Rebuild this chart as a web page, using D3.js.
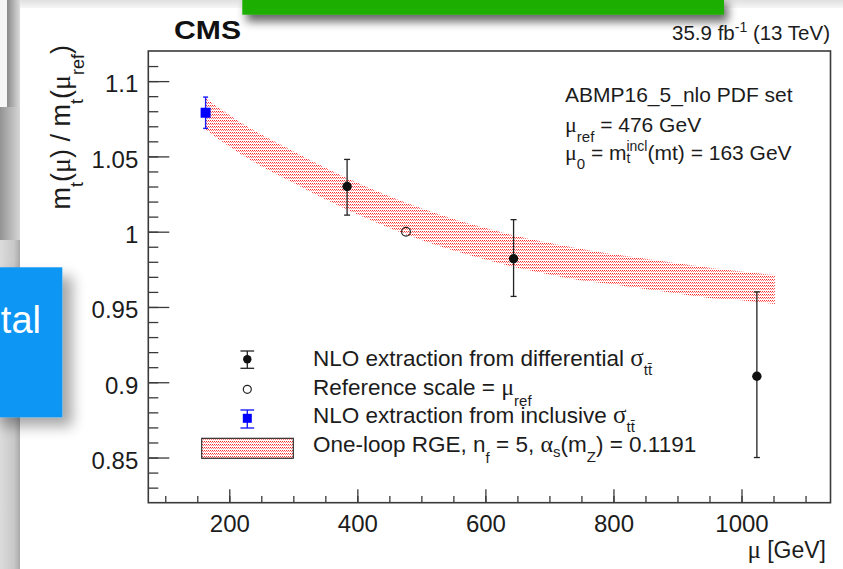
<!DOCTYPE html>
<html>
<head>
<meta charset="utf-8">
<script src="https://cdn.jsdelivr.net/npm/d3@7/dist/d3.min.js"></script>
<style>
  html, body { margin: 0; padding: 0; background: #fff; }
  svg { display: block; }
  text { white-space: pre; }
</style>
</head>
<body>
<svg id="chart" width="843" height="569"></svg>
<script>
// ---- data ----
const diffMu = [384, 644, 1024];
const diffRatio = [1.030, 0.982, 0.904];
const diffErrUp = [0.018, 0.026, 0.056];
const diffErrDown = [0.019, 0.025, 0.054];

const refMu = [476];
const refRatio = [1.0];

const inclMu = [163];
const inclRatio = [1.079];
const inclErr = [0.0104];

// one-loop RGE band (upper / lower edge)
const bandMu = [163, 200, 250, 300, 350, 400, 450, 500, 550, 600, 650, 700, 750, 800, 850, 900, 950, 1000, 1052];
const bandUp = [1.089, 1.0775, 1.0645, 1.0535, 1.0425, 1.0325, 1.0235, 1.0155, 1.0085, 1.0025, 0.997, 0.9925, 0.9885, 0.985, 0.982, 0.979, 0.976, 0.9735, 0.9712];
const bandLo = [1.068, 1.0565, 1.0435, 1.0325, 1.0215, 1.0115, 1.0025, 0.9945, 0.9875, 0.9815, 0.976, 0.9715, 0.9675, 0.965, 0.962, 0.959, 0.956, 0.9545, 0.952];

const xMajorTicks = [200, 400, 600, 800, 1000];
const yMajorTicks = [0.85, 0.9, 0.95, 1.0, 1.05, 1.1];
const yTickLabels = ["0.85", "0.9", "0.95", "1", "1.05", "1.1"];

// ---- layout ----
const SANS = "'Liberation Sans', Arial, Helvetica, sans-serif";
const SERIF = "'Liberation Serif', 'DejaVu Serif', serif";
const INK = "#1c1c1c";
const FRAME = "#3a3a3a";
const plot = { left: 148.3, right: 830.5, top: 51, bottom: 502.7 };

const svg = d3.select("#chart").attr("font-family", SANS);
const defs = svg.append("defs");

const x = d3.scaleLinear().domain([73.5, 1139]).range([plot.left, plot.right]);
const y = d3.scaleLinear().domain([0.82, 1.12]).range([plot.bottom, plot.top]);

// dotted red fill used for the RGE band
const pat = defs.append("pattern").attr("id", "rgeFill")
  .attr("patternUnits", "userSpaceOnUse").attr("width", 2).attr("height", 3);
pat.append("rect").attr("x", 0).attr("y", 0).attr("width", 1).attr("height", 1).attr("fill", "#ff1414").attr("opacity", 0.9);
pat.append("rect").attr("x", 1).attr("y", 1).attr("width", 1).attr("height", 1).attr("fill", "#ff3c3c").attr("opacity", 0.7);

function shadowFilter(id, dx, dy, sd, op) {
  const f = defs.append("filter").attr("id", id)
    .attr("x", "-30%").attr("y", "-30%").attr("width", "170%").attr("height", "220%");
  f.append("feGaussianBlur").attr("in", "SourceAlpha").attr("stdDeviation", sd);
  f.append("feOffset").attr("dx", dx).attr("dy", dy).attr("result", "ob");
  f.append("feComponentTransfer").append("feFuncA").attr("type", "linear").attr("slope", op);
  const m = f.append("feMerge");
  m.append("feMergeNode");
  m.append("feMergeNode").attr("in", "SourceGraphic");
}
shadowFilter("shadowGreen", 4, 7, 5, 0.6);
shadowFilter("shadowBlue", 10, 9, 7, 0.35);

function grad(id, stops, vertical) {
  const g = defs.append("linearGradient").attr("id", id)
    .attr("x1", 0).attr("y1", 0).attr("x2", vertical ? 0 : 1).attr("y2", vertical ? 1 : 0);
  stops.forEach(([o, c]) => g.append("stop").attr("offset", o).attr("stop-color", c));
}
grad("topStrip", [[0, "#e0e0e0"], [1, "#f6f6f6"]], true);
grad("panelEdge", [[0, "#8a8a8a"], [1, "#dcdcdc"]], false);
grad("colUpper", [[0, "#939393"], [1, "#d6d6d6"]], false);
grad("colLower", [[0, "#dcdcdc"], [0.7, "#c8c8c8"], [1, "#a9a9a9"]], false);

// rich text: parts are [string, {dy, size, serif, dx}] with dy relative to the baseline
function rich(parent, px, py, parts, size, anchor) {
  const t = parent.append("text").attr("x", px).attr("y", py)
    .attr("font-size", size).attr("fill", INK).attr("text-anchor", anchor || "start");
  let cur = 0;
  parts.forEach(([s, o]) => {
    o = o || {};
    const off = o.dy || 0;
    const ts = t.append("tspan").text(s);
    if (off !== cur) ts.attr("dy", off - cur);
    cur = off;
    if (o.size) ts.attr("font-size", o.size);
    if (o.serif) ts.attr("font-family", SERIF);
    if (o.dx) ts.attr("dx", o.dx);
  });
  return t;
}

// ---- band ----
const bandData = bandMu.map((m, i) => ({ m, up: bandUp[i], lo: bandLo[i] }));
svg.append("path").datum(bandData)
  .attr("d", d3.area().x(d => x(d.m)).y0(d => y(d.lo)).y1(d => y(d.up)).curve(d3.curveMonotoneX))
  .attr("fill", "url(#rgeFill)");

// ---- axes ----
const yMinor = d3.range(83, 112).map(v => v / 100);
svg.append("g").attr("transform", `translate(${plot.left},0)`)
  .call(d3.axisLeft(y).tickValues(yMinor).tickSize(-10).tickFormat(""))
  .call(g => g.select(".domain").remove())
  .call(g => g.selectAll("line").attr("stroke", FRAME).attr("stroke-width", 1.3));
const yAx = svg.append("g").attr("transform", `translate(${plot.left},0)`)
  .call(d3.axisLeft(y).tickValues(yMajorTicks).tickSize(-21).tickPadding(10)
    .tickFormat((d, i) => yTickLabels[i]))
  .call(g => g.select(".domain").remove());
yAx.selectAll("line").attr("stroke", FRAME).attr("stroke-width", 1.3);
yAx.selectAll("text").attr("font-size", 24).attr("font-family", SANS).attr("fill", INK).attr("dy", "0.45em");

const xMinor = d3.range(100, 1101, 50);
svg.append("g").attr("transform", `translate(0,${plot.bottom})`)
  .call(d3.axisBottom(x).tickValues(xMinor).tickSize(-6.7).tickFormat(""))
  .call(g => g.select(".domain").remove())
  .call(g => g.selectAll("line").attr("stroke", FRAME).attr("stroke-width", 1.3));
const xAx = svg.append("g").attr("transform", `translate(0,${plot.bottom})`)
  .call(d3.axisBottom(x).tickValues(xMajorTicks).tickSize(-13.5).tickPadding(12).tickFormat(d3.format("d")))
  .call(g => g.select(".domain").remove());
xAx.selectAll("line").attr("stroke", FRAME).attr("stroke-width", 1.3);
xAx.selectAll("text").attr("font-size", 24).attr("font-family", SANS).attr("fill", INK);

// frame
svg.append("rect").attr("x", plot.left).attr("y", plot.top)
  .attr("width", plot.right - plot.left).attr("height", plot.bottom - plot.top)
  .attr("fill", "none").attr("stroke", FRAME).attr("stroke-width", 1.6);

// ---- markers ----
function errBar(g, cx, y1, y2, cap, color, w) {
  g.append("line").attr("x1", cx).attr("x2", cx).attr("y1", y1).attr("y2", y2)
    .attr("stroke", color).attr("stroke-width", w);
  [y1, y2].forEach(yy => g.append("line").attr("x1", cx - cap / 2).attr("x2", cx + cap / 2)
    .attr("y1", yy).attr("y2", yy).attr("stroke", color).attr("stroke-width", w));
}
const marks = svg.append("g");
diffMu.forEach((m, i) => {
  errBar(marks, x(m), y(diffRatio[i] + diffErrUp[i]), y(diffRatio[i] - diffErrDown[i]), 6, "#222", 1.3);
  marks.append("circle").attr("cx", x(m)).attr("cy", y(diffRatio[i])).attr("r", 4.7).attr("fill", "#111");
});
refMu.forEach((m, i) => {
  marks.append("circle").attr("cx", x(m)).attr("cy", y(refRatio[i])).attr("r", 4.4)
    .attr("fill", "none").attr("stroke", "#222").attr("stroke-width", 1.2);
});
inclMu.forEach((m, i) => {
  errBar(marks, x(m), y(inclRatio[i] + inclErr[i]), y(inclRatio[i] - inclErr[i]), 5, "#1a1aff", 1.4);
  marks.append("rect").attr("x", x(m) - 5).attr("y", y(inclRatio[i]) - 5)
    .attr("width", 10).attr("height", 10).attr("fill", "#0000ff");
});

// ---- legend ----
const leg = svg.append("g");
const lx = 247.3;
errBar(leg, lx, 351, 368.3, 13.7, "#222", 1.3);
leg.append("circle").attr("cx", lx).attr("cy", 359.3).attr("r", 4.2).attr("fill", "#111");
leg.append("circle").attr("cx", lx).attr("cy", 389.3).attr("r", 4).attr("fill", "none")
  .attr("stroke", "#222").attr("stroke-width", 1.2);
errBar(leg, lx, 410, 428, 13.7, "#1a1aff", 1.4);
leg.append("rect").attr("x", lx - 4.5).attr("y", 418.3 - 4.5).attr("width", 9).attr("height", 9).attr("fill", "#0000ff");
leg.append("rect").attr("x", 201.7).attr("y", 438.3).attr("width", 91.6).attr("height", 20)
  .attr("fill", "url(#rgeFill)").attr("stroke", "#222").attr("stroke-width", 1.1);

const tx = 313;
rich(leg, tx, 366, [["NLO extraction from differential "], ["σ", { serif: true, size: 25 }], ["tt̄", { dy: 9, size: 15 }]], 22.5);
rich(leg, tx, 395, [["Reference scale = "], ["μ", { serif: true, size: 24 }], ["ref", { dy: 11, size: 15 }]], 22.5);
rich(leg, tx, 423.3, [["NLO extraction from inclusive "], ["σ", { serif: true, size: 25 }], ["tt̄", { dy: 9, size: 15 }]], 22.5);
rich(leg, tx, 451.7, [["One-loop RGE, n"], ["f", { dy: 11, size: 15 }], [" = 5, "], ["α", { serif: true, size: 24 }],
  ["s", { dy: 5, size: 15 }], ["(m"], ["Z", { dy: 10, size: 15 }], [") = 0.1191"]], 22.5);

// ---- info text ----
rich(svg, 565, 101.7, [["ABMP16_5_nlo PDF set"]], 21);
rich(svg, 565, 131.7, [["μ", { serif: true, size: 22 }], ["ref", { dy: 10, size: 15 }], [" = 476 GeV"]], 21);
rich(svg, 565, 160, [["μ", { serif: true, size: 22 }], ["0", { dy: 9, size: 15 }], [" = m"], ["t", { dy: 3, size: 14 }],
  ["incl", { dy: -9, size: 14, dx: -4 }], ["(mt) = 163 GeV"]], 21);

// header texts
svg.append("text").attr("x", 174).attr("y", 39.3).attr("font-size", 26).attr("font-weight", "bold")
  .attr("fill", "#111").attr("textLength", 67).attr("lengthAdjust", "spacingAndGlyphs").text("CMS");
rich(svg, 830, 40, [["35.9 fb"], ["-1", { dy: -8, size: 14 }], [" (13 TeV)"]], 20.5, "end");

// axis titles
rich(svg, 826, 558, [["μ", { serif: true, size: 25 }], [" [GeV]"]], 23, "end");
const yTitle = svg.append("g").attr("transform", "translate(70,45) rotate(-90)");
rich(yTitle, 0, 0, [["m"], ["t", { dy: 13, size: 18 }], ["("], ["μ", { serif: true, size: 28 }], [") / m"],
  ["t", { dy: 13, size: 18 }], ["("], ["μ", { serif: true, size: 28 }], ["ref", { dy: 14, size: 18 }], [")"]], 27, "end");

// ---- surrounding window elements ----
const deco = svg.append("g");
deco.append("rect").attr("x", 20).attr("y", 0).attr("width", 823).attr("height", 8).attr("fill", "url(#topStrip)");
deco.append("rect").attr("x", 0).attr("y", 0).attr("width", 8).attr("height", 107).attr("fill", "#f6f6f6");
deco.append("rect").attr("x", 7).attr("y", 0).attr("width", 13).attr("height", 107).attr("fill", "url(#panelEdge)");
deco.append("rect").attr("x", 0).attr("y", 107).attr("width", 20).attr("height", 133).attr("fill", "url(#colUpper)");
deco.append("rect").attr("x", 0).attr("y", 240).attr("width", 20).attr("height", 329).attr("fill", "url(#colLower)");

deco.append("rect").attr("x", 242.3).attr("y", -4).attr("width", 481.7).attr("height", 18.7)
  .attr("fill", "#1aae00").attr("filter", "url(#shadowGreen)");

const blue = deco.append("g");
blue.append("rect").attr("x", -10).attr("y", 267.3).attr("width", 72.3).attr("height", 150)
  .attr("fill", "#0a96f4").attr("filter", "url(#shadowBlue)");
blue.append("text").attr("x", 41).attr("y", 333).attr("text-anchor", "end")
  .attr("font-size", 38).attr("fill", "#ffffff").text("tal");
</script>
</body>
</html>
